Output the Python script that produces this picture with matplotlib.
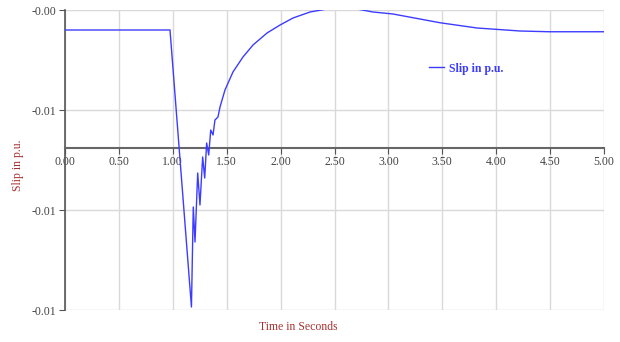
import matplotlib
matplotlib.use("Agg")
import matplotlib.pyplot as plt
from matplotlib.ticker import FormatStrFormatter

# Data (time in s, slip in p.u.)
time_s = [0.0, 0.974, 1.173, 1.190, 1.206, 1.231, 1.252, 1.277, 1.296, 1.314,
          1.333, 1.352, 1.373, 1.391, 1.419, 1.438, 1.484, 1.558, 1.651, 1.744,
          1.874, 1.995, 2.115, 2.273, 2.430, 2.551, 2.709, 2.857, 3.043, 3.479,
          3.822, 4.221, 4.490, 5.0]
slip = [-0.0028, -0.0028, -0.01388, -0.00988, -0.01128, -0.00852, -0.0098,
        -0.00788, -0.00872, -0.00732, -0.0078, -0.0068, -0.0070, -0.0064,
        -0.00628, -0.00588, -0.0052, -0.00448, -0.00388, -0.0034, -0.00292,
        -0.0026, -0.00232, -0.00208, -0.00196, -0.00196, -0.00196, -0.00208,
        -0.00216, -0.00251, -0.00272, -0.00284, -0.00287, -0.00287]
x_ticks = [0.0, 0.5, 1.0, 1.5, 2.0, 2.5, 3.0, 3.5, 4.0, 4.5, 5.0]
y_ticks = [-0.014, -0.010, -0.006, -0.002]
x_axis_crossing = -0.00752

fig = plt.figure(figsize=(6.2, 3.42), dpi=100)
ax = fig.add_axes([65/620, 1-310/342, (604-65)/620, 300/342])

serif = ["Liberation Serif", "DejaVu Serif"]
ax.plot(time_s, slip, color="#3c3cff", lw=1.0, label="Slip in p.u.", zorder=3)

ax.set_xlim(0, 5)
ax.set_ylim(-0.014, -0.002)
ax.set_xticks(x_ticks)
ax.set_yticks(y_ticks)
ax.xaxis.set_major_formatter(FormatStrFormatter("%.2f"))
ax.yaxis.set_major_formatter(FormatStrFormatter("%.2f"))
ax.grid(True, color="#d9d9d9", lw=1.0, zorder=0)

for s in ["top", "right"]:
    ax.spines[s].set_visible(False)
ax.spines["left"].set_color("#555555")
ax.spines["left"].set_linewidth(1.2)
ax.spines["bottom"].set_position(("data", x_axis_crossing))
ax.spines["bottom"].set_color("#666666")
ax.spines["bottom"].set_linewidth(1.5)

ax.tick_params(axis="both", colors="#555555", labelsize=8.5, length=4, width=0.8)
ax.tick_params(axis="x", pad=2, labelcolor="#444444")
ax.tick_params(axis="y", pad=2, labelcolor="#444444")
for lab in ax.get_xticklabels() + ax.get_yticklabels():
    lab.set_family(serif)

fig.text(18/620, 1-165/342, "Slip in p.u.", rotation=90, color="#a83232",
         fontsize=8.5, ha="center", va="center", family=serif)
fig.text(298/620, 1-327/342, "Time in Seconds", color="#a83232",
         fontsize=8.5, ha="center", va="center", family=serif)

leg = ax.legend(loc="upper left", bbox_to_anchor=((418-65)/539, (310-52)/300),
                frameon=False, handlelength=1.3, handletextpad=0.4,
                prop={"family": serif, "weight": "bold", "size": 8.5})
for t in leg.get_texts():
    t.set_color("#3c3cff")

fig.savefig("out.png", dpi=100)
